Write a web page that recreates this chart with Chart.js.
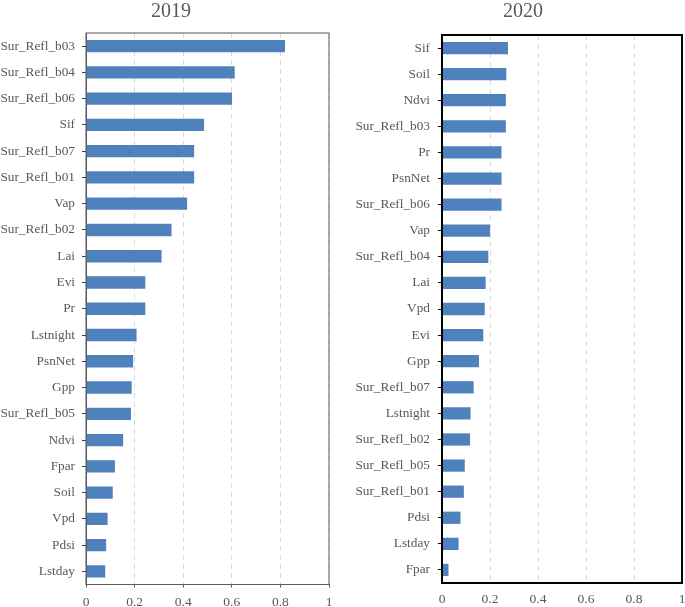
<!DOCTYPE html>
<html>
<head>
<meta charset="utf-8">
<script src="https://cdn.jsdelivr.net/npm/chart.js@4/dist/chart.umd.min.js"></script>
<style>
    html, body { margin: 0; padding: 0; background: #fff; }
    #wrap { position: relative; width: 685px; height: 607px; overflow: hidden; }
    .panel { position: absolute; top: 0; height: 607px; }
    #p2019 { left: 0; width: 340px; }
    #p2020 { left: 345px; width: 340px; }
    .title {
        position: absolute; top: 0; width: 200px; height: 20px; text-align: center;
        font: 20px/20px 'Liberation Serif', 'Times New Roman', serif; color: #595959;
    }
    #t2019 { left: 71px; }
    #t2020 { left: 423px; }
</style>
</head>
<body>
<div id="wrap">
    <div class="panel" id="p2019"><canvas id="chart2019"></canvas></div>
    <div class="panel" id="p2020"><canvas id="chart2020"></canvas></div>
    <div class="title" id="t2019">2019</div>
    <div class="title" id="t2020">2020</div>
</div>
<script>
const labels2019 = ['Sur_Refl_b03', 'Sur_Refl_b04', 'Sur_Refl_b06', 'Sif', 'Sur_Refl_b07', 'Sur_Refl_b01', 'Vap',
    'Sur_Refl_b02', 'Lai', 'Evi', 'Pr', 'Lstnight', 'PsnNet', 'Gpp', 'Sur_Refl_b05', 'Ndvi', 'Fpar', 'Soil',
    'Vpd', 'Pdsi', 'Lstday'];
const values2019 = [0.819, 0.612, 0.601, 0.486, 0.445, 0.445, 0.416, 0.352, 0.311, 0.244, 0.244, 0.208, 0.194,
    0.188, 0.185, 0.153, 0.119, 0.110, 0.089, 0.083, 0.079];

const labels2020 = ['Sif', 'Soil', 'Ndvi', 'Sur_Refl_b03', 'Pr', 'PsnNet', 'Sur_Refl_b06', 'Vap', 'Sur_Refl_b04',
    'Lai', 'Vpd', 'Evi', 'Gpp', 'Sur_Refl_b07', 'Lstnight', 'Sur_Refl_b02', 'Sur_Refl_b05', 'Sur_Refl_b01',
    'Pdsi', 'Lstday', 'Fpar'];
const values2020 = [0.275, 0.268, 0.266, 0.266, 0.248, 0.248, 0.248, 0.200, 0.193, 0.182, 0.178, 0.172, 0.154,
    0.132, 0.119, 0.117, 0.095, 0.091, 0.077, 0.069, 0.027];

const xTicks = [0, 0.2, 0.4, 0.6, 0.8, 1];

const textColor = '#595959';
const barColor = '#4f81bd';
const serif = "'Liberation Serif', 'Times New Roman', serif";

// frame round the plot area
const frameBox = {
    id: 'frameBox',
    afterDraw(chart, args, opts) {
        const { ctx, chartArea: a } = chart;
        ctx.save();
        ctx.strokeStyle = opts.color;
        ctx.lineWidth = opts.width;
        ctx.strokeRect(a.left, a.top, a.right - a.left, a.bottom - a.top);
        ctx.restore();
    }
};

const makeChart = (id, labels, values, cfg) => {
    const ctx = document.getElementById(id).getContext('2d');
    return new Chart(ctx, {
        type: 'bar',
        data: {
            labels: labels,
            datasets: [{
                data: values,
                backgroundColor: barColor,
                borderWidth: 0,
                barPercentage: 0.47,
                categoryPercentage: 1
            }]
        },
        plugins: [frameBox],
        options: {
            indexAxis: 'y',
            responsive: true,
            maintainAspectRatio: false,
            animation: false,
            layout: { padding: { top: cfg.padTop, right: cfg.padRight, left: 0, bottom: 0 } },
            plugins: {
                legend: { display: false },
                tooltip: { enabled: false },
                title: { display: false },
                frameBox: { color: cfg.frameColor, width: cfg.frameWidth }
            },
            scales: {
                x: {
                    type: 'linear',
                    min: 0,
                    max: 1,
                    afterBuildTicks: (scale) => { scale.ticks = xTicks.map(v => ({ value: v })); },
                    afterFit: (scale) => {
                        scale.height = cfg.xHeight;
                        scale.paddingLeft = 0;
                        scale.paddingRight = 0;
                    },
                    ticks: {
                        color: textColor,
                        padding: cfg.xPad,
                        font: { family: serif, size: 13.5 },
                        callback: (v) => String(v)
                    },
                    grid: {
                        color: '#d9d9d9',
                        lineWidth: 1,
                        drawTicks: cfg.xTickMarks,
                        tickLength: 3,
                        tickColor: cfg.frameColor,
                        tickBorderDash: []
                    },
                    border: { color: cfg.frameColor, width: cfg.frameWidth, dash: [5, 4] }
                },
                y: {
                    afterFit: (scale) => { scale.width = cfg.yWidth; },
                    ticks: {
                        color: textColor,
                        padding: cfg.yPad,
                        autoSkip: false,
                        font: { family: serif, size: 13.3 }
                    },
                    grid: {
                        offset: false,
                        drawOnChartArea: false,
                        tickLength: 4,
                        tickColor: cfg.tickColor
                    },
                    border: { color: cfg.frameColor, width: cfg.frameWidth }
                }
            }
        }
    });
};

makeChart('chart2019', labels2019, values2019, {
    padTop: 33, padRight: 11, xHeight: 22.5, xPad: 7, xTickMarks: true,
    yWidth: 86, yPad: 7, frameColor: '#595959', frameWidth: 1, tickColor: '#404040'
});

makeChart('chart2020', labels2020, values2020, {
    padTop: 35, padRight: 3, xHeight: 24, xPad: 8, xTickMarks: false,
    yWidth: 97, yPad: 8, frameColor: '#000000', frameWidth: 2, tickColor: '#000000'
});
</script>
</body>
</html>
